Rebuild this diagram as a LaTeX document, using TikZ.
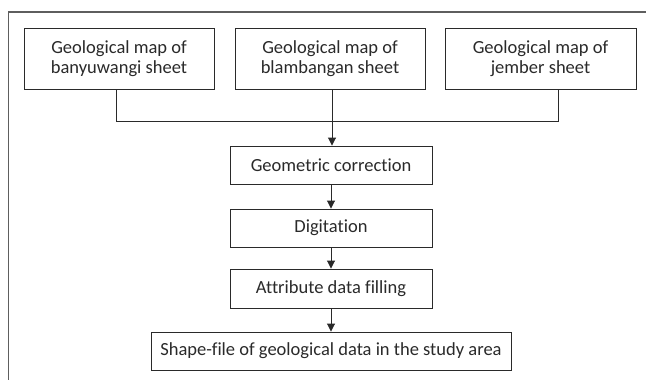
\documentclass[tikz,border=0pt]{standalone}
\usepackage{fontspec}
\setmainfont[Ligatures=NoCommon]{Carlito}
\usetikzlibrary{arrows.meta}
\definecolor{ink}{HTML}{2A2A2A}
\definecolor{framegray}{HTML}{5E5E5E}
\tikzset{
  box/.style={draw=ink, line width=0.9pt, text=ink, align=center, inner sep=0pt, font=\fontsize{18.5}{20.5}\selectfont},
  conn/.style={draw=ink, line width=0.9pt},
  arr/.style={conn, -{Triangle[length=8pt,width=8pt]}}
}
\begin{document}
\begin{tikzpicture}[x=1pt,y=-1pt]
\useasboundingbox[fill=white] (0,0) rectangle (646,380);
\draw[framegray, line width=1.3pt] (8.5,381) -- (8.5,12) -- (647,12);
\node[box, minimum width=190pt, minimum height=61pt] (b1) at (119,58.5) {Geological map of\\banyuwangi sheet};
\node[box, minimum width=190pt, minimum height=61pt] (b2) at (330,58.5) {Geological map of\\blambangan sheet};
\node[box, minimum width=191pt, minimum height=61pt] (b3) at (540.5,58.5) {Geological map of\\jember sheet};
\node[box, minimum width=202pt, minimum height=38pt] (gc) at (331,165) {Geometric correction};
\node[box, minimum width=202pt, minimum height=38pt] (dg) at (331,228) {Digitation};
\node[box, minimum width=202pt, minimum height=39pt] (ad) at (331,288.5) {Attribute data filling};
\node[box, minimum width=360pt, minimum height=38pt] (sf) at (331,351) {Shape-file of geological data in the study area};
\draw[conn] ([xshift=-3pt]b1.south) -- ++(0,32) -| ([xshift=17.5pt]b3.south);
\draw[arr] ([xshift=2pt]b2.south) -- ([xshift=1pt]gc.north);
\draw[arr] (gc) -- (dg);
\draw[arr] (dg) -- (ad);
\draw[arr] (ad) -- (sf);
\end{tikzpicture}
\end{document}
